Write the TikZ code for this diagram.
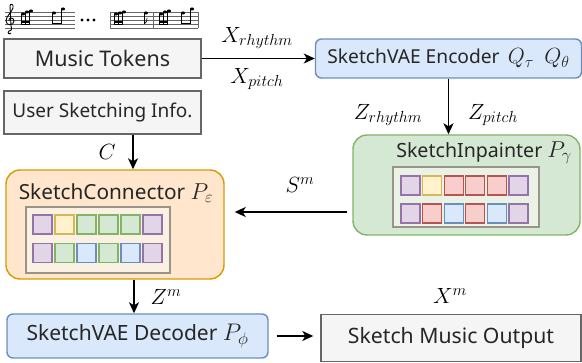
\RequirePackage{fix-cm}
\documentclass[tikz,border=0pt]{standalone}
\usepackage{fontspec}
\setmainfont{Noto Sans}
\usetikzlibrary{arrows.meta}
\DeclareMathSizes{22}{22}{16}{12}
\DeclareMathSizes{24}{24}{17}{12}
\DeclareMathSizes{23}{23}{16.5}{12}
\definecolor{gfill}{HTML}{F5F5F5}
\definecolor{gline}{HTML}{666666}
\definecolor{bfill}{HTML}{DAE8FC}
\definecolor{bline}{HTML}{6C8EBF}
\definecolor{grfill}{HTML}{D5E8D4}
\definecolor{grline}{HTML}{82B366}
\definecolor{ofill}{HTML}{FFE6CC}
\definecolor{oline}{HTML}{D79B00}
\definecolor{pfill}{HTML}{E1D5E7}
\definecolor{pline}{HTML}{9673A6}
\definecolor{yfill}{HTML}{FFF2CC}
\definecolor{yline}{HTML}{D6B656}
\definecolor{rfill}{HTML}{F8CECC}
\definecolor{rline}{HTML}{B85450}
\definecolor{innerO}{HTML}{FBF1E3}
\definecolor{innerG}{HTML}{EAF2E5}
\definecolor{innerL}{HTML}{9A9388}
\newcommand{\fsz}[1]{\fontsize{#1}{#1}\selectfont}
\newcommand{\bm}[2]{{\fsz{#1}$#2$}}
\begin{document}
\begin{tikzpicture}[x=1pt,y=-1pt,
  box/.style={draw, line width=1.4pt, inner sep=0pt, text=black!85},
  graybox/.style={box, fill=gfill, draw=gline},
  bluebox/.style={box, fill=bfill, draw=bline, rounded corners=6pt},
  bigbox/.style={box, rounded corners=14pt},
  lbl/.style={inner sep=0pt, font=\fsz{22}},
  arr/.style={line width=1.5pt, -{Stealth[length=11pt,width=10pt,inset=3pt]}},
  cell/.style={line width=1.3pt},
  staff/.style={line width=0.5pt, draw=black!60},
]
\useasboundingbox (0,0) rectangle (582,363);

% ---------- music staff ----------
\foreach \yy in {12,16,20,24,28}{
  \draw[staff] (5,\yy) -- (75,\yy);
  \draw[staff] (110,\yy) -- (198,\yy);
}
\foreach \xx in {110,153,198}{\draw[staff] (\xx,12) -- (\xx,28);}
% treble clef (approx.)
\draw[line width=0.9pt] (11,33) .. controls (9,35) and (7,33) .. (9,31)
  .. controls (12,30) .. (11,26) -- (10,6) .. controls (10,3) and (14,4) .. (13,8)
  .. controls (12,12) and (6,16) .. (6,21) .. controls (6,26) and (14,26) .. (14,21)
  .. controls (14,17) and (8,17) .. (9,21);
% notes helper
\newcommand{\nhead}[2]{\fill (#1,#2) ellipse (2.1pt and 1.5pt);}
\newcommand{\nstem}[3]{\draw[line width=0.6pt] (#1-1.9,#2) -- (#1-1.9,#3);}
% group A
\foreach \xx/\yy in {23/14,27/12,31/11}{\nhead{\xx}{\yy}\nstem{\xx}{\yy}{25}}
\fill (20.8,24) rectangle (29.4,25.5);
\fill (20.8,21.5) rectangle (29.4,23);
% group B
\foreach \xx/\yy in {54/13,63/9}{\nhead{\xx}{\yy}\nstem{\xx}{\yy}{24}}
\fill (51.8,23) rectangle (61.4,24.5);
% dots
\foreach \xx in {82,88,94}{\fill (\xx,20) circle (1.7pt);}
% group C
\foreach \xx/\yy in {116/14,120/13,124/12}{\nhead{\xx}{\yy}\nstem{\xx}{\yy}{25}}
\fill (113.8,24) rectangle (122.4,25.5);
\fill (113.8,21.5) rectangle (122.4,23);
\nhead{146}{13}\nstem{146}{13}{24}
\draw[line width=0.7pt] (144.1,24) .. controls (146,22) and (148,21) .. (147,18);
% group D
\foreach \xx/\yy in {161/14,165/12,169/11}{\nhead{\xx}{\yy}\nstem{\xx}{\yy}{25}}
\fill (158.8,24) rectangle (167.4,25.5);
\fill (158.8,21.5) rectangle (167.4,23);
% group E
\foreach \xx/\yy in {183/13,192/9}{\nhead{\xx}{\yy}\nstem{\xx}{\yy}{24}}
\fill (180.8,23) rectangle (190.4,24.5);

% ---------- boxes ----------
\node[graybox, minimum width=197pt, minimum height=39pt, font=\fsz{21.5}] (tok) at (102.5,58.5) {Music Tokens};
\node[graybox, minimum width=197pt, minimum height=43pt, font=\fsz{19}] (user) at (102.5,112.5) {User Sketching Info.};
\node[bluebox, minimum width=266pt, minimum height=39pt, font=\fsz{19.2}] (enc) at (448.5,58.5) {SketchVAE Encoder\, \bm{22}{Q_\tau}\; \bm{22}{Q_\theta}};
\node[bigbox, fill=grfill, draw=grline, minimum width=227pt, minimum height=100pt] (inp) at (466.5,185) {};
\node[bigbox, fill=ofill, draw=oline, minimum width=218pt, minimum height=109pt] (con) at (115,224.5) {};
\node[bluebox, minimum width=261pt, minimum height=44pt, font=\fsz{21}] (dec) at (137.5,336) {SketchVAE Decoder \bm{24}{P_\phi}};
\node[graybox, minimum width=260pt, minimum height=47pt, font=\fsz{21.2}] (out) at (451,338) {Sketch Music Output};

% titles
\node[lbl, font=\fsz{20.8}, text=black!85] (contitle) at (116,193) {SketchConnector \bm{23}{P_\varepsilon}};
\node[lbl, font=\fsz{19.6}, text=black!85] (inptitle) at (484,153) {SketchInpainter \bm{23}{P_\gamma}};

% inner grids
\draw[line width=1.3pt, draw=innerL, fill=innerO] (26,207) rectangle (170,273);
\draw[line width=1.3pt, draw=innerL, fill=innerG] (393,167) rectangle (539,227);
\foreach \c [count=\i from 0] in {p,y,gr,gr,gr,p}{
  \draw[cell, fill=\c fill, draw=\c line] (33+\i*22,215) rectangle ++(19,19);}
\foreach \c [count=\i from 0] in {p,gr,b,gr,b,p}{
  \draw[cell, fill=\c fill, draw=\c line] (33+\i*22,243.5) rectangle ++(19,19);}
\foreach \c [count=\i from 0] in {p,y,r,r,r,p}{
  \draw[cell, fill=\c fill, draw=\c line] (401+\i*21.6,176) rectangle ++(19,19);}
\foreach \c [count=\i from 0] in {p,r,b,r,b,p}{
  \draw[cell, fill=\c fill, draw=\c line] (401+\i*21.6,204) rectangle ++(19,19);}

% ---------- arrows ----------
\draw[arr] (tok.east) -- (enc.west);
\draw[arr] (enc.south) -- (enc.south |- inp.north);
\draw[arr] ([xshift=30.5pt]user.south) -- ([xshift=30.5pt]user.south |- con.north);
\draw[arr] ([shift={(-5,27)}]inp.west) -- ([shift={(10,-12.5)}]con.east);
\draw[arr] ([xshift=19pt]con.south) -- ([xshift=19pt]con.south |- dec.north);
\draw[arr] ([xshift=8pt]dec.east) -- ([xshift=-7pt]dec.east -| out.west);

% ---------- labels ----------
\node[lbl] (lxr) at (257,38) {$X_{rhythm}$};
\node[lbl] (lxp) at (257,79) {$X_{pitch}$};
\node[lbl] (lzr) at (388,115) {$Z_{rhythm}$};
\node[lbl] (lzp) at (493,115) {$Z_{pitch}$};
\node[lbl] (lc) at (107,152) {$C$};
\node[lbl] (lsm) at (300,185) {$S^m$};
\node[lbl] (lzm) at (166,297) {$Z^m$};
\node[lbl] (lxm) at (450,296) {$X^m$};
\end{tikzpicture}
\end{document}
